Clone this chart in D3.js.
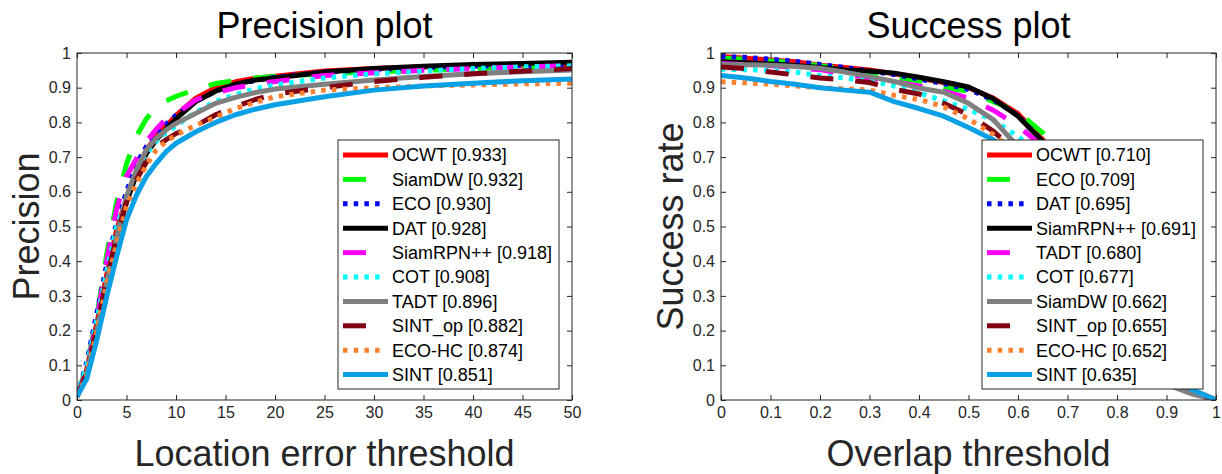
<!DOCTYPE html>
<html>
<head>
<meta charset="utf-8">
<script src="https://cdn.jsdelivr.net/npm/d3@7"></script>
<style>
  body { margin: 0; background: #fff; }
  svg { display: block; font-family: "Liberation Sans", Arial, Helvetica, sans-serif; }
</style>
</head>
<body>
<svg id="chart" width="1222" height="474"></svg>
<script>
// ---------- Precision plot data (location error threshold in pixels) ----------
const precisionThresholds = [0, 1, 2, 3, 4, 5, 6, 7, 8, 9, 10, 12, 14, 16, 18, 20, 25, 30, 35, 40, 45, 50];
const precisionTrackers = ["OCWT", "SiamDW", "ECO", "DAT", "SiamRPN++", "COT", "TADT", "SINT_op", "ECO-HC", "SINT"];
const precisionScores = [0.933, 0.932, 0.930, 0.928, 0.918, 0.908, 0.896, 0.882, 0.874, 0.851];
const precOCWT     = [0.01, 0.09, 0.22, 0.36, 0.49, 0.58, 0.66, 0.72, 0.76, 0.79, 0.82, 0.87, 0.90, 0.917, 0.927, 0.933, 0.948, 0.955, 0.960, 0.963, 0.965, 0.967];
const precSiamDW   = [0.01, 0.10, 0.24, 0.42, 0.57, 0.68, 0.76, 0.81, 0.845, 0.862, 0.875, 0.895, 0.912, 0.920, 0.928, 0.932, 0.940, 0.946, 0.950, 0.955, 0.958, 0.962];
const precECO      = [0.01, 0.11, 0.25, 0.39, 0.51, 0.60, 0.68, 0.73, 0.765, 0.795, 0.82, 0.86, 0.89, 0.908, 0.921, 0.930, 0.945, 0.953, 0.958, 0.962, 0.964, 0.966];
const precDAT      = [0.01, 0.08, 0.20, 0.34, 0.47, 0.57, 0.65, 0.71, 0.75, 0.78, 0.81, 0.86, 0.89, 0.910, 0.922, 0.928, 0.945, 0.955, 0.962, 0.967, 0.970, 0.973];
const precSiamRPN  = [0.01, 0.09, 0.23, 0.40, 0.55, 0.645, 0.695, 0.745, 0.78, 0.81, 0.825, 0.865, 0.885, 0.900, 0.910, 0.918, 0.935, 0.943, 0.950, 0.955, 0.960, 0.963];
const precCOT      = [0.01, 0.10, 0.23, 0.37, 0.50, 0.58, 0.66, 0.71, 0.745, 0.77, 0.79, 0.83, 0.86, 0.880, 0.897, 0.908, 0.928, 0.940, 0.948, 0.955, 0.960, 0.963];
const precTADT     = [0.01, 0.08, 0.20, 0.34, 0.47, 0.586, 0.663, 0.72, 0.754, 0.778, 0.797, 0.826, 0.855, 0.872, 0.886, 0.896, 0.910, 0.922, 0.932, 0.940, 0.946, 0.951];
const precSINTop   = [0.01, 0.08, 0.21, 0.35, 0.47, 0.57, 0.635, 0.685, 0.73, 0.75, 0.768, 0.79, 0.822, 0.845, 0.866, 0.882, 0.900, 0.918, 0.930, 0.940, 0.948, 0.955];
const precECOHC    = [0.01, 0.072, 0.197, 0.336, 0.45, 0.557, 0.624, 0.677, 0.72, 0.745, 0.764, 0.792, 0.815, 0.840, 0.858, 0.874, 0.893, 0.900, 0.905, 0.908, 0.911, 0.913];
const precSINT     = [0.01, 0.062, 0.173, 0.298, 0.413, 0.519, 0.59, 0.644, 0.682, 0.716, 0.74, 0.773, 0.80, 0.822, 0.838, 0.851, 0.874, 0.893, 0.905, 0.913, 0.920, 0.925];
const precisionSeries = [precOCWT, precSiamDW, precECO, precDAT, precSiamRPN, precCOT, precTADT, precSINTop, precECOHC, precSINT];
const precisionXTicks = [0, 5, 10, 15, 20, 25, 30, 35, 40, 45, 50];
const precisionXLabels = ["0", "5", "10", "15", "20", "25", "30", "35", "40", "45", "50"];

// ---------- Success plot data (overlap threshold) ----------
const successThresholds = [0, 0.05, 0.1, 0.15, 0.2, 0.25, 0.3, 0.35, 0.4, 0.45, 0.5, 0.55, 0.6, 0.65, 0.7, 0.75, 0.8, 0.85, 0.9, 0.95, 1];
const successTrackers = ["OCWT", "ECO", "DAT", "SiamRPN++", "TADT", "COT", "SiamDW", "SINT_op", "ECO-HC", "SINT"];
const successScores = [0.710, 0.709, 0.695, 0.691, 0.680, 0.677, 0.662, 0.655, 0.652, 0.635];
const succOCWT    = [0.990, 0.985, 0.980, 0.975, 0.965, 0.958, 0.951, 0.940, 0.928, 0.915, 0.900, 0.870, 0.825, 0.750, 0.650, 0.550, 0.420, 0.230, 0.098, 0.030, 0];
const succECO     = [0.985, 0.982, 0.977, 0.972, 0.963, 0.955, 0.945, 0.928, 0.920, 0.900, 0.890, 0.860, 0.830, 0.770, 0.670, 0.560, 0.430, 0.240, 0.082, 0.030, 0];
const succDAT     = [0.990, 0.987, 0.982, 0.976, 0.967, 0.958, 0.948, 0.938, 0.925, 0.912, 0.895, 0.865, 0.820, 0.745, 0.600, 0.470, 0.330, 0.190, 0.070, 0.027, 0];
const succSiamRPN = [0.975, 0.972, 0.968, 0.964, 0.958, 0.951, 0.948, 0.942, 0.930, 0.917, 0.902, 0.868, 0.818, 0.745, 0.600, 0.460, 0.320, 0.180, 0.068, 0.025, 0];
const succTADT    = [0.970, 0.967, 0.963, 0.958, 0.952, 0.940, 0.928, 0.917, 0.905, 0.890, 0.870, 0.835, 0.790, 0.730, 0.600, 0.470, 0.330, 0.180, 0.060, 0.025, 0];
const succCOT     = [0.953, 0.952, 0.950, 0.945, 0.935, 0.928, 0.920, 0.905, 0.885, 0.862, 0.838, 0.806, 0.760, 0.700, 0.630, 0.520, 0.380, 0.230, 0.088, 0.030, 0];
const succSiamDW  = [0.967, 0.966, 0.965, 0.961, 0.956, 0.945, 0.932, 0.918, 0.899, 0.887, 0.855, 0.808, 0.730, 0.650, 0.560, 0.420, 0.280, 0.140, 0.045, 0.018, 0];
const succSINTop  = [0.960, 0.955, 0.945, 0.937, 0.928, 0.922, 0.915, 0.895, 0.882, 0.855, 0.822, 0.775, 0.710, 0.630, 0.560, 0.460, 0.330, 0.180, 0.068, 0.026, 0];
const succECOHC   = [0.917, 0.914, 0.910, 0.905, 0.900, 0.897, 0.893, 0.878, 0.866, 0.845, 0.810, 0.765, 0.710, 0.640, 0.580, 0.500, 0.380, 0.240, 0.110, 0.032, 0];
const succSINT    = [0.935, 0.928, 0.918, 0.910, 0.900, 0.893, 0.887, 0.860, 0.840, 0.818, 0.785, 0.750, 0.690, 0.620, 0.540, 0.440, 0.320, 0.190, 0.080, 0.031, 0];
const successSeries = [succOCWT, succECO, succDAT, succSiamRPN, succTADT, succCOT, succSiamDW, succSINTop, succECOHC, succSINT];
const successXTicks = [0, 0.1, 0.2, 0.3, 0.4, 0.5, 0.6, 0.7, 0.8, 0.9, 1];
const successXLabels = ["0", "0.1", "0.2", "0.3", "0.4", "0.5", "0.6", "0.7", "0.8", "0.9", "1"];

// ---------- Shared y axis ----------
const yTicks = [0, 0.1, 0.2, 0.3, 0.4, 0.5, 0.6, 0.7, 0.8, 0.9, 1];
const yLabels = ["0", "0.1", "0.2", "0.3", "0.4", "0.5", "0.6", "0.7", "0.8", "0.9", "1"];

// Line styles by rank (solid / dashed / dotted cycle)
const lineStyles = [
  { color: "#ff0000", dash: "solid" },
  { color: "#00ff00", dash: "dashed" },
  { color: "#0000ff", dash: "dotted" },
  { color: "#000000", dash: "solid" },
  { color: "#ff00ff", dash: "dashed" },
  { color: "#00ffff", dash: "dotted" },
  { color: "#808080", dash: "solid" },
  { color: "#800014", dash: "dashed" },
  { color: "#ff8030", dash: "dotted" },
  { color: "#0aa0e6", dash: "solid" }
];
const dashArray = { solid: null, dashed: "23,22", dotted: "4.5,6.2" };
const LINE_W = 5;
const AXIS_COLOR = "#262626";

const svg = d3.select("#chart");

function drawPanel(cfg) {
  const { left, right, top, bottom } = cfg.box;
  const x = d3.scaleLinear().domain(cfg.xDomain).range([left, right]);
  const y = d3.scaleLinear().domain([0, 1]).range([bottom, top]);
  const g = svg.append("g");

  // plot background + clip
  const clipId = "clip-" + cfg.id;
  svg.append("defs").append("clipPath").attr("id", clipId)
    .append("rect").attr("x", left).attr("y", top).attr("width", right - left).attr("height", bottom - top);

  // curves, first entry drawn first so later ones sit on top
  const line = d3.line().x((d, i) => x(cfg.thresholds[i])).y(d => y(d)).curve(d3.curveLinear);
  const curves = g.append("g").attr("clip-path", `url(#${clipId})`);
  cfg.series.forEach((vals, i) => {
    const st = lineStyles[i];
    curves.append("path")
      .attr("d", line(vals))
      .attr("fill", "none")
      .attr("stroke", st.color)
      .attr("stroke-width", LINE_W)
      .attr("stroke-linejoin", "round")
      .attr("stroke-linecap", "butt")
      .attr("stroke-dasharray", dashArray[st.dash]);
  });

  // axes with inward ticks on every side
  const fmtX = d => cfg.xLabels[cfg.xTicks.indexOf(d)];
  const fmtY = d => yLabels[yTicks.indexOf(d)];
  const axB = g.append("g").attr("transform", `translate(0,${bottom})`)
    .call(d3.axisBottom(x).tickValues(cfg.xTicks).tickFormat(fmtX).tickSizeInner(-5).tickSizeOuter(0).tickPadding(7));
  const axT = g.append("g").attr("transform", `translate(0,${top})`)
    .call(d3.axisTop(x).tickValues(cfg.xTicks).tickFormat("").tickSizeInner(-5).tickSizeOuter(0));
  const axL = g.append("g").attr("transform", `translate(${left},0)`)
    .call(d3.axisLeft(y).tickValues(yTicks).tickFormat(fmtY).tickSizeInner(-5).tickSizeOuter(0).tickPadding(6));
  const axR = g.append("g").attr("transform", `translate(${right},0)`)
    .call(d3.axisRight(y).tickValues(yTicks).tickFormat("").tickSizeInner(-5).tickSizeOuter(0));
  [axB, axT, axL, axR].forEach(a => {
    a.select(".domain").remove();
    a.selectAll(".tick line").attr("stroke", AXIS_COLOR).attr("stroke-width", 1);
    a.selectAll("text").attr("fill", AXIS_COLOR).style("font-size", "16px");
  });
  g.append("rect").attr("x", left).attr("y", top).attr("width", right - left).attr("height", bottom - top)
    .attr("fill", "none").attr("stroke", AXIS_COLOR).attr("stroke-width", 1);

  // title and axis labels
  const cx = (left + right) / 2, cy = (top + bottom) / 2;
  g.append("text").attr("x", cx).attr("y", 38).attr("text-anchor", "middle")
    .style("font-size", "36px").attr("fill", "#000").text(cfg.title);
  g.append("text").attr("x", cx).attr("y", 466).attr("text-anchor", "middle")
    .style("font-size", "36px").attr("fill", AXIS_COLOR).text(cfg.xTitle);
  g.append("text").attr("transform", `translate(${left - 38},${cy}) rotate(-90)`).attr("text-anchor", "middle")
    .style("font-size", "36px").attr("fill", AXIS_COLOR).text(cfg.yTitle);

  // legend
  const lw = 221, lh = 249;
  const lx = right - 13 - lw, ly = bottom - 11 - lh;
  const lg = g.append("g");
  lg.append("rect").attr("x", lx).attr("y", ly).attr("width", lw).attr("height", lh)
    .attr("fill", "#fff").attr("stroke", AXIS_COLOR).attr("stroke-width", 1);
  cfg.names.forEach((name, i) => {
    const st = lineStyles[i];
    const rowY = ly + 15 + i * 24.4;
    const x2 = st.dash === "dotted" ? lx + 42 : lx + 50;
    lg.append("line").attr("x1", lx + 5).attr("x2", x2).attr("y1", rowY).attr("y2", rowY)
      .attr("stroke", st.color).attr("stroke-width", LINE_W).attr("stroke-linecap", "butt")
      .attr("stroke-dasharray", dashArray[st.dash]);
    lg.append("text").attr("x", lx + 54).attr("y", rowY).attr("dy", "0.35em")
      .style("font-size", "18px").attr("fill", "#000")
      .text(`${name} [${cfg.scores[i].toFixed(3)}]`);
  });
}

drawPanel({
  id: "precision",
  box: { left: 77, right: 572, top: 53, bottom: 400 },
  xDomain: [0, 50],
  thresholds: precisionThresholds,
  series: precisionSeries,
  names: precisionTrackers,
  scores: precisionScores,
  xTicks: precisionXTicks,
  xLabels: precisionXLabels,
  title: "Precision plot",
  xTitle: "Location error threshold",
  yTitle: "Precision"
});

drawPanel({
  id: "success",
  box: { left: 721, right: 1216, top: 53, bottom: 400 },
  xDomain: [0, 1],
  thresholds: successThresholds,
  series: successSeries,
  names: successTrackers,
  scores: successScores,
  xTicks: successXTicks,
  xLabels: successXLabels,
  title: "Success plot",
  xTitle: "Overlap threshold",
  yTitle: "Success rate"
});
</script>
</body>
</html>
